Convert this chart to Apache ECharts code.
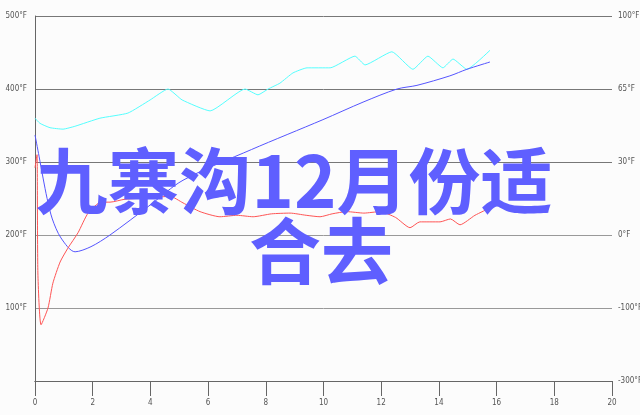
<!DOCTYPE html>
<html>
<head>
<meta charset="utf-8">
<script src="https://cdn.jsdelivr.net/npm/echarts@6/dist/echarts.min.js"></script>
<style>
html,body{margin:0;padding:0;background:#fcfcfc;}
#c{width:640px;height:415px;}
</style>
</head>
<body>
<div id="c"></div>
<script>
// x ticks 0..20 step 2; left axis 0..500 °F
var xTicks = [0, 2, 4, 6, 8, 10, 12, 14, 16, 18, 20];
var leftLabels = {0: '', 100: '100°F', 200: '200°F', 300: '300°F', 400: '400°F', 500: '500°F'};
var rightLabels = {0: '-300°F', 100: '-100°F', 200: '0°F', 300: '30°F', 400: '65°F', 500: '100°F'};

var cyanSeries = [
  [0, 360], [0.17, 353], [0.52, 347], [0.97, 345], [1.39, 349], [2.25, 360],
  [3.22, 367], [3.99, 385], [4.61, 400], [5.1, 385], [6.07, 370], [7.28, 400],
  [7.73, 392], [8.08, 400], [8.49, 408], [8.94, 422], [9.43, 429], [10.23, 429],
  [11.09, 445], [11.44, 433], [12.37, 451], [13.1, 427], [13.62, 445], [14.14, 429],
  [14.49, 441], [14.97, 427], [15.77, 453]
];
var blueSeries = [
  [0, 337], [0.14, 308], [0.28, 278], [0.42, 250], [0.6, 222], [0.9, 196],
  [1.39, 177], [1.94, 184], [2.6, 200], [3.99, 241], [5.13, 275], [7.5, 317],
  [9.98, 358], [11.37, 382], [12.55, 400], [13.24, 405], [14.38, 418],
  [14.97, 427], [15.77, 437]
];
var redSeries = [
  [0, 292], [0.07, 310], [0.1, 148], [0.21, 77], [0.45, 100], [0.62, 134],
  [0.87, 163], [1.14, 182], [1.49, 203], [1.84, 230], [2.29, 245], [2.6, 245],
  [3.12, 249], [3.99, 251], [4.68, 253], [5.13, 244], [5.72, 232], [6.41, 225],
  [7.0, 227], [7.56, 225], [8.2, 229], [8.84, 230], [9.4, 227], [9.88, 225],
  [10.3, 229], [10.81, 232], [11.4, 230], [11.96, 232], [12.5, 224], [13.0, 210],
  [13.34, 218], [14.04, 218], [14.4, 222], [14.73, 214], [15.25, 227], [15.77, 237]
];
var titleLine1 = '九寨沟12月份适';
var titleLine2 = '合去';

var axisFont = "'Liberation Sans Narrow','DejaVu Sans Condensed',sans-serif";
var chart = echarts.init(document.getElementById('c'), null, {renderer: 'canvas'});
chart.setOption({
  backgroundColor: '#fcfcfc',
  animation: false,
  grid: {left: 35, right: 28, top: 16, bottom: 34, outerBoundsMode: 'none', containLabel: false},
  xAxis: [{
    type: 'value', min: xTicks[0], max: xTicks[xTicks.length - 1], interval: 2,
    position: 'bottom',
    axisLine: {show: true, lineStyle: {color: '#666', width: 1}},
    axisTick: {show: true, length: 15, lineStyle: {color: '#666'}},
    axisLabel: {margin: 18, fontSize: 8, color: '#555', fontFamily: axisFont},
    splitLine: {show: false}
  }, {
    type: 'value', min: xTicks[0], max: xTicks[xTicks.length - 1], interval: 2,
    position: 'bottom', offset: 7,
    axisLine: {show: true, lineStyle: {color: '#666', width: 1}},
    axisTick: {show: false}, axisLabel: {show: false}, splitLine: {show: false}
  }],
  yAxis: [{
    type: 'value', min: 0, max: 500, interval: 100, position: 'left', offset: 5,
    axisLine: {show: true, lineStyle: {color: '#666', width: 1}},
    axisTick: {show: false},
    axisLabel: {margin: 3, fontSize: 8, color: '#555', fontFamily: axisFont,
      formatter: function (v) { return leftLabels[v] !== undefined ? leftLabels[v] : ''; }},
    splitLine: {show: true, lineStyle: {color: ['#777', '#999', '#999', '#777', '#777', '#777'], width: 1}}
  }, {
    type: 'value', min: 0, max: 500, interval: 100, position: 'right',
    axisLine: {show: false}, axisTick: {show: false},
    axisLabel: {margin: 6, fontSize: 8, color: '#555', fontFamily: axisFont,
      formatter: function (v) { return rightLabels[v] !== undefined ? rightLabels[v] : ''; }},
    splitLine: {show: false}
  }],
  series: [
    {type: 'line', data: cyanSeries, symbol: 'none', smooth: 0.15, lineStyle: {color: '#55ffff', width: 1}},
    {type: 'line', data: blueSeries, symbol: 'none', smooth: 0.3, lineStyle: {color: '#5555ff', width: 1}},
    {type: 'line', data: redSeries, symbol: 'none', smooth: 0.2, lineStyle: {color: '#ff5555', width: 1}}
  ],
  graphic: [
    {type: 'text', x: 294, y: 181, z: 100, style: {text: titleLine1, fill: '#5f5fff',
      font: "bold 72px 'Noto Sans CJK SC', sans-serif", textAlign: 'center', textVerticalAlign: 'middle'}},
    {type: 'text', x: 321, y: 251, z: 100, style: {text: titleLine2, fill: '#5f5fff',
      font: "bold 72px 'Noto Sans CJK SC', sans-serif", textAlign: 'center', textVerticalAlign: 'middle'}}
  ]
});
</script>
</body>
</html>
